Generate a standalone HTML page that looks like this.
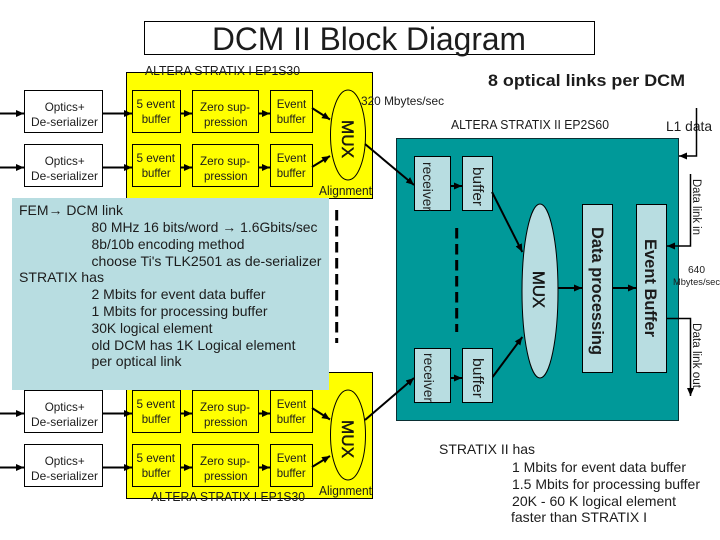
<!DOCTYPE html>
<html><head><meta charset="utf-8"><style>
html,body{margin:0;padding:0;background:#fff}
svg{display:block}
text{font-family:"Liberation Sans",sans-serif;font-size:12px;fill:#1c1c1c}
.l{stroke:#000;stroke-width:2;fill:none}
.a{stroke:#000;stroke-width:2;fill:none;marker-end:url(#m)}
.b{fill:none;stroke:#000;stroke-width:1}
.lb{fill:#b8dde1;stroke:#000;stroke-width:1}
.s{font-size:14px}
.mx{font-size:17px;stroke:#000;stroke-width:.4}
</style></head><body>
<svg width="720" height="540" viewBox="0 0 720 540" xmlns="http://www.w3.org/2000/svg">
<defs><marker id="m" markerUnits="userSpaceOnUse" markerWidth="9" markerHeight="9" refX="8" refY="4.5" orient="auto"><path d="M0 1L8 4.5L0 8z" fill="#000"/></marker></defs>
<rect x="144.5" y="21.5" width="450" height="33" fill="#fff" stroke="#000"/>
<text x="212" y="50" style="font-size:32px" textLength="314" lengthAdjust="spacingAndGlyphs">DCM II Block Diagram</text>
<rect x="126.5" y="72.5" width="246" height="126" fill="#ff0" stroke="#000"/>
<rect x="126.5" y="372.5" width="246" height="126" fill="#ff0" stroke="#000"/>
<text x="145" y="75" style="font-size:12.5px" textLength="155" lengthAdjust="spacingAndGlyphs">ALTERA STRATIX I EP1S30</text>
<text x="151" y="501" style="font-size:12.5px" textLength="154" lengthAdjust="spacingAndGlyphs">ALTERA STRATIX I EP1S30</text>
<text x="488" y="86" style="font-size:17px;font-weight:bold" textLength="197" lengthAdjust="spacingAndGlyphs">8 optical links per DCM</text>
<text x="361" y="105" style="font-size:12px" textLength="83" lengthAdjust="spacingAndGlyphs">320 Mbytes/sec</text>
<text x="451" y="129" style="font-size:12.5px" textLength="158" lengthAdjust="spacingAndGlyphs">ALTERA STRATIX II EP2S60</text>
<text x="666" y="131" style="font-size:14px" textLength="46" lengthAdjust="spacingAndGlyphs">L1 data</text>

<g>
<rect x="24.5" y="90.5" width="78" height="42" fill="#fff" stroke="#000"/><rect x="132.5" y="90.5" width="48" height="42" class="b"/><rect x="192.5" y="90.5" width="66" height="42" class="b"/><rect x="270.5" y="90.5" width="42" height="42" class="b"/>
<path class="a" d="M0 113.5H24"/><path class="a" d="M102 113.5H132"/><path class="a" d="M180 113.5H192"/><path class="a" d="M258 113.5H270"/>
<text x="44.7" y="111" textLength="40" lengthAdjust="spacingAndGlyphs">Optics+</text><text x="31" y="126" textLength="67" lengthAdjust="spacingAndGlyphs">De-serializer</text>
<text x="136.5" y="108" textLength="38.5" lengthAdjust="spacingAndGlyphs">5 event</text><text x="141.7" y="123" textLength="29" lengthAdjust="spacingAndGlyphs">buffer</text>
<text x="200" y="111" textLength="50" lengthAdjust="spacingAndGlyphs">Zero sup-</text><text x="204" y="126" textLength="43.5" lengthAdjust="spacingAndGlyphs">pression</text>
<text x="276.7" y="108" textLength="29.5" lengthAdjust="spacingAndGlyphs">Event</text><text x="276.7" y="123" textLength="29" lengthAdjust="spacingAndGlyphs">buffer</text>
</g>
<g transform="translate(0,54)">
<rect x="24.5" y="90.5" width="78" height="42" fill="#fff" stroke="#000"/><rect x="132.5" y="90.5" width="48" height="42" class="b"/><rect x="192.5" y="90.5" width="66" height="42" class="b"/><rect x="270.5" y="90.5" width="42" height="42" class="b"/>
<path class="a" d="M0 113.5H24"/><path class="a" d="M102 113.5H132"/><path class="a" d="M180 113.5H192"/><path class="a" d="M258 113.5H270"/>
<text x="44.7" y="111" textLength="40" lengthAdjust="spacingAndGlyphs">Optics+</text><text x="31" y="126" textLength="67" lengthAdjust="spacingAndGlyphs">De-serializer</text>
<text x="136.5" y="108" textLength="38.5" lengthAdjust="spacingAndGlyphs">5 event</text><text x="141.7" y="123" textLength="29" lengthAdjust="spacingAndGlyphs">buffer</text>
<text x="200" y="111" textLength="50" lengthAdjust="spacingAndGlyphs">Zero sup-</text><text x="204" y="126" textLength="43.5" lengthAdjust="spacingAndGlyphs">pression</text>
<text x="276.7" y="108" textLength="29.5" lengthAdjust="spacingAndGlyphs">Event</text><text x="276.7" y="123" textLength="29" lengthAdjust="spacingAndGlyphs">buffer</text>
</g>
<g transform="translate(0,300)">
<rect x="24.5" y="90.5" width="78" height="42" fill="#fff" stroke="#000"/><rect x="132.5" y="90.5" width="48" height="42" class="b"/><rect x="192.5" y="90.5" width="66" height="42" class="b"/><rect x="270.5" y="90.5" width="42" height="42" class="b"/>
<path class="a" d="M0 113.5H24"/><path class="a" d="M102 113.5H132"/><path class="a" d="M180 113.5H192"/><path class="a" d="M258 113.5H270"/>
<text x="44.7" y="111" textLength="40" lengthAdjust="spacingAndGlyphs">Optics+</text><text x="31" y="126" textLength="67" lengthAdjust="spacingAndGlyphs">De-serializer</text>
<text x="136.5" y="108" textLength="38.5" lengthAdjust="spacingAndGlyphs">5 event</text><text x="141.7" y="123" textLength="29" lengthAdjust="spacingAndGlyphs">buffer</text>
<text x="200" y="111" textLength="50" lengthAdjust="spacingAndGlyphs">Zero sup-</text><text x="204" y="126" textLength="43.5" lengthAdjust="spacingAndGlyphs">pression</text>
<text x="276.7" y="108" textLength="29.5" lengthAdjust="spacingAndGlyphs">Event</text><text x="276.7" y="123" textLength="29" lengthAdjust="spacingAndGlyphs">buffer</text>
</g>
<g transform="translate(0,354)">
<rect x="24.5" y="90.5" width="78" height="42" fill="#fff" stroke="#000"/><rect x="132.5" y="90.5" width="48" height="42" class="b"/><rect x="192.5" y="90.5" width="66" height="42" class="b"/><rect x="270.5" y="90.5" width="42" height="42" class="b"/>
<path class="a" d="M0 113.5H24"/><path class="a" d="M102 113.5H132"/><path class="a" d="M180 113.5H192"/><path class="a" d="M258 113.5H270"/>
<text x="44.7" y="111" textLength="40" lengthAdjust="spacingAndGlyphs">Optics+</text><text x="31" y="126" textLength="67" lengthAdjust="spacingAndGlyphs">De-serializer</text>
<text x="136.5" y="108" textLength="38.5" lengthAdjust="spacingAndGlyphs">5 event</text><text x="141.7" y="123" textLength="29" lengthAdjust="spacingAndGlyphs">buffer</text>
<text x="200" y="111" textLength="50" lengthAdjust="spacingAndGlyphs">Zero sup-</text><text x="204" y="126" textLength="43.5" lengthAdjust="spacingAndGlyphs">pression</text>
<text x="276.7" y="108" textLength="29.5" lengthAdjust="spacingAndGlyphs">Event</text><text x="276.7" y="123" textLength="29" lengthAdjust="spacingAndGlyphs">buffer</text>
</g>

<ellipse cx="348" cy="135" rx="17.5" ry="45" class="b"/>
<ellipse cx="348" cy="435" rx="17.5" ry="45" class="b"/>
<text transform="translate(342,120) rotate(90)" class="mx" textLength="38" lengthAdjust="spacingAndGlyphs">MUX</text>
<text transform="translate(342,420) rotate(90)" class="mx" textLength="38" lengthAdjust="spacingAndGlyphs">MUX</text>
<path class="a" d="M312 108L330 119.5"/><path class="a" d="M312 167L330 156"/>
<path class="a" d="M312 408L330 419.5"/><path class="a" d="M312 467L330 456"/>
<text x="319" y="195" style="font-size:12.5px" textLength="53" lengthAdjust="spacingAndGlyphs">Alignment</text>
<text x="319" y="495" style="font-size:12.5px" textLength="53" lengthAdjust="spacingAndGlyphs">Alignment</text>

<rect x="396.5" y="138.5" width="282" height="282" fill="#009999" stroke="#0a2f33"/>
<rect x="414.5" y="156.5" width="36" height="54" class="lb"/>
<rect x="462.5" y="156.5" width="30" height="54" class="lb"/>
<rect x="414.5" y="348.5" width="36" height="54" class="lb"/>
<rect x="462.5" y="348.5" width="30" height="54" class="lb"/>
<ellipse cx="540" cy="291" rx="18" ry="87" class="lb"/>
<rect x="582.5" y="204.5" width="30" height="168" class="lb"/>
<rect x="636.5" y="204.5" width="30" height="168" class="lb"/>
<text transform="translate(423,162) rotate(90)" class="s" textLength="49" lengthAdjust="spacingAndGlyphs">receiver</text>
<text transform="translate(424,353) rotate(90)" class="s" textLength="49" lengthAdjust="spacingAndGlyphs">receiver</text>
<text transform="translate(473,167) rotate(90)" style="font-size:14.5px" textLength="39" lengthAdjust="spacingAndGlyphs">buffer</text>
<text transform="translate(473,358) rotate(90)" style="font-size:14.5px" textLength="40" lengthAdjust="spacingAndGlyphs">buffer</text>
<text transform="translate(533,271) rotate(90)" class="mx" textLength="37" lengthAdjust="spacingAndGlyphs">MUX</text>
<text transform="translate(592,227) rotate(90)" style="font-size:17px;font-weight:bold" textLength="128" lengthAdjust="spacingAndGlyphs">Data processing</text>
<text transform="translate(645,239) rotate(90)" style="font-size:17px;font-weight:bold" textLength="98" lengthAdjust="spacingAndGlyphs">Event Buffer</text>

<path class="a" d="M365 144L414 185"/><path class="a" d="M365 420L414 378"/>
<path class="a" d="M450 186H462"/><path class="a" d="M450 378H462"/>
<path class="a" d="M492 192L522.3 252"/><path class="a" d="M492.6 377L522.3 337"/>
<path class="a" d="M558 288H582"/><path class="a" d="M612 288H636"/>
<path d="M456.7 228V332" stroke="#000" stroke-width="3" stroke-dasharray="10.5 5.5" fill="none"/>
<path d="M336.7 210V343" stroke="#000" stroke-width="3" stroke-dasharray="10.5 5.5" fill="none"/>

<path class="a" d="M696.5 108V156H679" style="stroke-width:1.5"/>
<path class="a" d="M690.5 174V246H667" style="stroke-width:1.5"/>
<path class="a" d="M667 318.5H690.5V396" style="stroke-width:1.5"/>
<text transform="translate(693,179) rotate(90)" style="font-size:11.5px" textLength="56" lengthAdjust="spacingAndGlyphs">Data link in</text>
<text transform="translate(693,323) rotate(90)" style="font-size:11.5px" textLength="65" lengthAdjust="spacingAndGlyphs">Data link out</text>
<text x="688" y="273" style="font-size:10px" textLength="17" lengthAdjust="spacingAndGlyphs">640</text>
<text x="673" y="285" style="font-size:9.5px" textLength="47" lengthAdjust="spacingAndGlyphs">Mbytes/sec</text>

<rect x="12" y="198" width="317" height="192" fill="#b8dde1"/>
<g>
<text x="19" y="215" class="s" textLength="104" lengthAdjust="spacingAndGlyphs">FEM→ DCM link</text>
<text x="91.5" y="232" class="s" textLength="226" lengthAdjust="spacingAndGlyphs">80 MHz 16 bits/word → 1.6Gbits/sec</text>
<text x="91.5" y="249" class="s" textLength="153" lengthAdjust="spacingAndGlyphs">8b/10b encoding method</text>
<text x="91.5" y="266" class="s" textLength="230" lengthAdjust="spacingAndGlyphs">choose Ti's TLK2501 as de-serializer</text>
<text x="19" y="282" class="s" textLength="85" lengthAdjust="spacingAndGlyphs">STRATIX has</text>
<text x="91.5" y="299" class="s" textLength="174" lengthAdjust="spacingAndGlyphs">2 Mbits for event data buffer</text>
<text x="91.5" y="316" class="s" textLength="176" lengthAdjust="spacingAndGlyphs">1 Mbits for processing buffer</text>
<text x="91.5" y="333" class="s" textLength="121" lengthAdjust="spacingAndGlyphs">30K logical element</text>
<text x="91.5" y="350" class="s" textLength="204" lengthAdjust="spacingAndGlyphs">old DCM has 1K Logical element</text>
<text x="91.5" y="366" class="s" textLength="90" lengthAdjust="spacingAndGlyphs">per optical link</text>
</g>

<text x="439" y="454" class="s" textLength="96" lengthAdjust="spacingAndGlyphs">STRATIX II has</text>
<text x="512" y="472" class="s" textLength="174" lengthAdjust="spacingAndGlyphs">1 Mbits for event data buffer</text>
<text x="512" y="489" class="s" textLength="188" lengthAdjust="spacingAndGlyphs">1.5 Mbits for processing buffer</text>
<text x="512" y="506" class="s" textLength="164" lengthAdjust="spacingAndGlyphs">20K - 60 K logical element</text>
<text x="511" y="522" class="s" textLength="136" lengthAdjust="spacingAndGlyphs">faster than STRATIX I</text>
</svg>
</body></html>
